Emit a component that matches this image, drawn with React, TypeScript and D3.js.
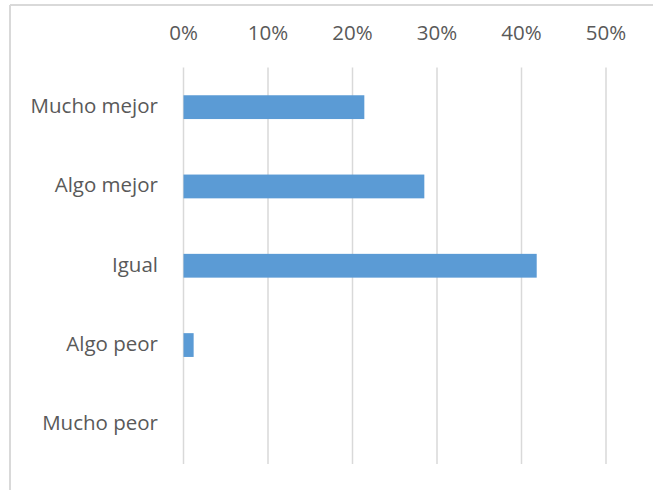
import React from "react";
import * as d3 from "d3";

const categories = ["Mucho mejor", "Algo mejor", "Igual", "Algo peor", "Mucho peor"];
const values = [0.214, 0.285, 0.418, 0.012, 0];
const ticks = [0, 0.1, 0.2, 0.3, 0.4, 0.5];

const W = 653;
const H = 490;

export default function App() {
  const x = d3.scaleLinear().domain([0, 0.5]).range([183.5, 606]);
  const y = d3.scaleBand<string>().domain(categories).range([67.5, 464]).paddingInner(0.7).paddingOuter(0.35);
  const fmt = d3.format(".0%");
  const font = "'Open Sans', sans-serif";
  return (
    <svg width={W} height={H} style={{ position: "absolute", left: 0, top: 0, background: "#fff" }}>
      <rect x={0} y={0} width={W} height={H} fill="#fff" />
      {/* frame */}
      <line x1={10} y1={5} x2={W} y2={5} stroke="#d9d9d9" strokeWidth={2} />
      <line x1={10} y1={5} x2={10} y2={H} stroke="#d9d9d9" strokeWidth={2} />
      {ticks.map((t) => (
        <g key={t}>
          <line x1={x(t)} x2={x(t)} y1={67.5} y2={464} stroke="#d9d9d9" strokeWidth={1.5} />
          <text x={x(t)} y={40} textAnchor="middle" fontFamily={font} fontSize={20.5} fill="#595959">
            {fmt(t)}
          </text>
        </g>
      ))}
      {categories.map((c, i) => (
        <g key={c}>
          {values[i] > 0 && (
            <rect
              x={x(0)}
              y={y(c)!}
              width={x(values[i]) - x(0)}
              height={y.bandwidth()}
              fill="#5b9bd5"
            />
          )}
          <text
            x={158}
            y={y(c)! + y.bandwidth() / 2 + 6}
            textAnchor="end"
            fontFamily={font}
            fontSize={20.5}
            fill="#595959"
          >
            {c}
          </text>
        </g>
      ))}
    </svg>
  );
}
